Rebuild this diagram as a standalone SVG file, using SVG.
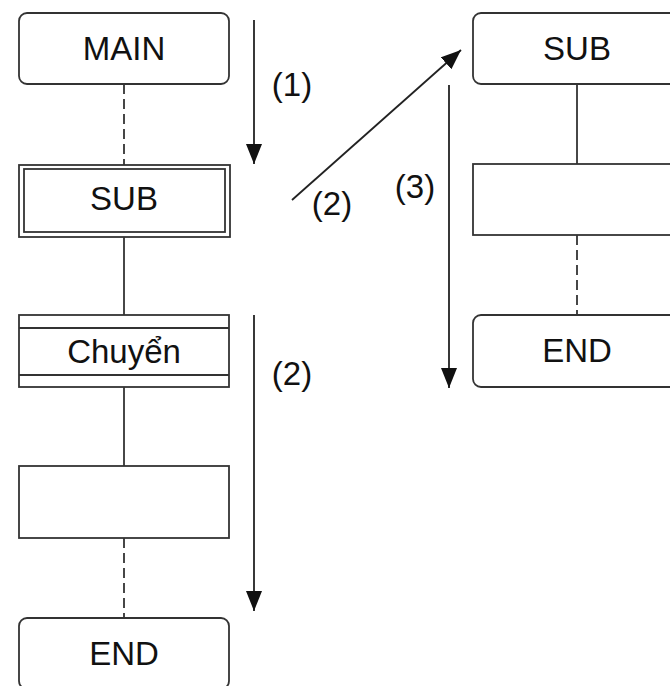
<svg xmlns="http://www.w3.org/2000/svg" width="670" height="686" viewBox="0 0 670 686">
  <defs>
    <style>
      .box { fill: #fff; stroke: #333; stroke-width: 1.8; }
      .link { fill: none; stroke: #333; stroke-width: 1.8; }
      .dash { stroke-dasharray: 10 5; }
      .flow { fill: none; stroke: #222; stroke-width: 1.8; }
      text { font-family: "Liberation Sans", Arial, sans-serif; font-size: 33px; fill: #111; }
      .c { text-anchor: middle; }
    </style>
    <marker id="head" viewBox="0 0 20 16" refX="20" refY="8" markerWidth="20" markerHeight="16" markerUnits="userSpaceOnUse" orient="auto">
      <path d="M0,0 L20,8 L0,16 Z" fill="#111"/>
    </marker>
  </defs>

  <!-- connectors between steps -->
  <g id="connectors">
    <line class="link dash" x1="124" y1="84" x2="124" y2="165"/>
    <line class="link" x1="124" y1="237" x2="124" y2="315"/>
    <line class="link" x1="124" y1="387" x2="124" y2="466"/>
    <line class="link dash" x1="124" y1="538" x2="124" y2="618"/>
    <line class="link" x1="577" y1="84" x2="577" y2="165"/>
    <line class="link dash" x1="577" y1="235" x2="577" y2="315"/>
  </g>

  <!-- execution flow arrows -->
  <g id="flow">
    <line class="flow" x1="254" y1="20" x2="254" y2="164" marker-end="url(#head)"/>
    <line class="flow" x1="254" y1="315" x2="254" y2="611" marker-end="url(#head)"/>
    <line class="flow" x1="292" y1="200" x2="461" y2="50" marker-end="url(#head)"/>
    <line class="flow" x1="449" y1="85" x2="449" y2="388" marker-end="url(#head)"/>
    <text x="292" y="96" class="c">(1)</text>
    <text x="292" y="385" class="c">(2)</text>
    <text x="332" y="215" class="c">(2)</text>
    <text x="415" y="198" class="c">(3)</text>
  </g>

  <!-- main program -->
  <g id="main">
    <rect class="box" x="19" y="13" width="210" height="71" rx="8"/>
    <text x="124" y="60" class="c">MAIN</text>
  </g>
  <g id="sub-call">
    <rect class="box" x="19" y="165" width="211" height="72"/>
    <rect class="box" x="24" y="169" width="201" height="63"/>
    <text x="124" y="210" class="c">SUB</text>
  </g>
  <g id="jump">
    <rect class="box" x="19" y="315" width="210" height="72"/>
    <line class="link" x1="19" y1="328" x2="229" y2="328"/>
    <line class="link" x1="19" y1="375" x2="229" y2="375"/>
    <text x="124" y="363" class="c">Chuyển</text>
  </g>
  <g id="main-step">
    <rect class="box" x="19" y="466" width="210" height="72"/>
  </g>
  <g id="main-end">
    <rect class="box" x="19" y="618" width="210" height="71" rx="8"/>
    <text x="124" y="665" class="c">END</text>
  </g>

  <!-- subroutine -->
  <g id="sub">
    <rect class="box" x="473" y="13" width="209" height="71" rx="8"/>
    <text x="577" y="60" class="c">SUB</text>
  </g>
  <g id="sub-step">
    <rect class="box" x="473" y="164" width="209" height="71"/>
  </g>
  <g id="sub-end">
    <rect class="box" x="473" y="315" width="209" height="72" rx="8"/>
    <text x="577" y="362" class="c">END</text>
  </g>
</svg>
